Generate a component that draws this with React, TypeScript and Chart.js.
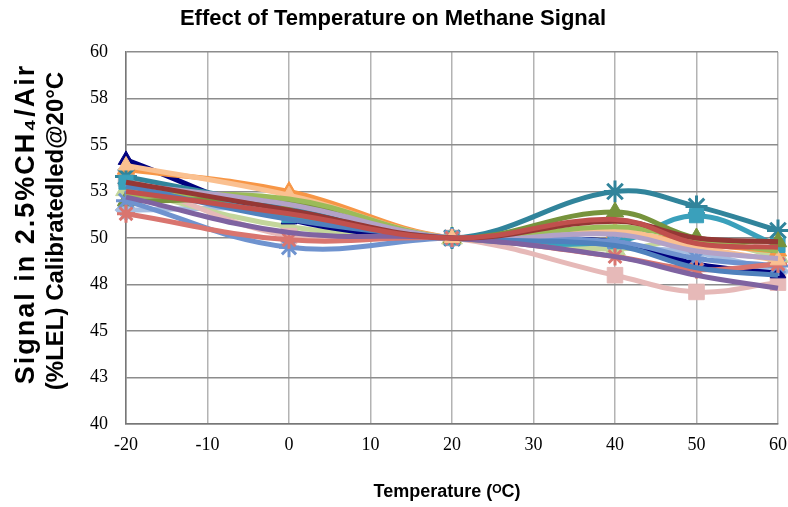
import React, { useEffect, useRef } from "react";
import { Chart, registerables } from "chart.js";

Chart.register(...registerables);

const temperatures = [-20, 0, 20, 40, 50, 60];

const navyDiamond = [54.2, 51.0, 50, 49.8, 48.6, 48.1];
const pinkSquare = [53.2, 50.1, 50, 48.0, 47.1, 47.6];
const lightGreenTriangle = [52.6, 50.6, 50, 49.4, 49.9, 49.0];
const tealStar = [53.3, 51.6, 50, 52.5, 51.7, 50.4];
const tealSquare = [53.0, 51.2, 50, 49.8, 51.2, 49.6];
const orangeTriangle = [53.7, 52.5, 50, 50.3, 49.7, 49.3];
const greenTriangle = [52.0, 51.9, 50, 51.4, 50.0, 49.8];
const redLine = [52.5, 51.3, 50, 51.0, 49.7, 49.5];
const purpleLine = [52.2, 50.3, 50, 49.0, 48.0, 47.3];
const blueLine = [52.8, 51.0, 50, 49.6, 48.4, 48.0];
const salmonCross = [51.3, 49.9, 50, 49.0, 48.3, 48.6];
const lightPurpleLine = [52.9, 51.8, 50, 50.2, 49.3, 48.9];
const oliveGreenLine = [52.3, 52.1, 50, 50.6, 49.9, 49.3];
const darkRedLine = [53.0, 51.5, 50, 50.9, 50.0, 49.8];
const lightOrangeLine = [53.9, 52.3, 50, 50.4, 49.5, 48.8];
const skyBlueStar = [52.0, 49.5, 50, 49.8, 48.9, 48.5];
const lightBlueDiamond = [51.5, 51.5, 50, 49.5, 49.2, 48.2];

const yTicks = [40, 42.5, 45, 47.5, 50, 52.5, 55, 57.5, 60];

const chartTitle = "Effect of Temperature on Methane Signal";
const xTitle = "Temperature (ᴼC)";
const yTitleLines = ["Signal in 2.5%CH₄/Air", "(%LEL) Calibratedled@20°C"];

type S = { data: number[]; color: string; style: string; radius: number };

const seriesList: S[] = [
  { data: redLine, color: "#C0504D", style: "circle", radius: 0 },
  { data: darkRedLine, color: "#953735", style: "circle", radius: 0 },
  { data: purpleLine, color: "#7F63A1", style: "circle", radius: 0 },
  { data: blueLine, color: "#4F81BD", style: "circle", radius: 0 },
  { data: lightPurpleLine, color: "#B3A2C7", style: "circle", radius: 0 },
  { data: oliveGreenLine, color: "#9BBB59", style: "circle", radius: 0 },
  { data: lightOrangeLine, color: "#FAC090", style: "triangle", radius: 9 },
  { data: salmonCross, color: "#D9756F", style: "star", radius: 9 },
  { data: skyBlueStar, color: "#6F93CF", style: "star", radius: 10 },
  { data: greenTriangle, color: "#77933C", style: "triangle", radius: 10 },
  { data: tealSquare, color: "#3AA0BB", style: "rect", radius: 10 },
  { data: tealStar, color: "#31849B", style: "star", radius: 11 },
  { data: orangeTriangle, color: "#F79646", style: "triangle", radius: 10 },
  { data: navyDiamond, color: "#00007F", style: "triangle", radius: 9 },
  { data: pinkSquare, color: "#E6B9B8", style: "rect", radius: 11 },
  { data: lightGreenTriangle, color: "#C3D69B", style: "triangle", radius: 12 },
  { data: lightBlueDiamond, color: "#A6BDE0", style: "rectRot", radius: 11 },
];

const titlesPlugin = {
  id: "titlesPlugin",
  afterDraw(chart: any) {
    const ctx = chart.ctx as CanvasRenderingContext2D;
    const specs = [
      { x: 27, y: 224, size: 27, spacing: "2px" },
      { x: 56, y: 231, size: 24, spacing: "0px" },
    ];
    yTitleLines.forEach((line, i) => {
      ctx.save();
      ctx.translate(specs[i].x, specs[i].y);
      ctx.rotate(-Math.PI / 2);
      ctx.font = "bold " + specs[i].size + "px 'Liberation Sans', Arial, sans-serif";
      (ctx as any).letterSpacing = specs[i].spacing;
      ctx.fillStyle = "#000";
      ctx.textAlign = "center";
      ctx.textBaseline = "middle";
      ctx.fillText(line, 0, 0);
      ctx.restore();
    });
    ctx.save();
    ctx.fillStyle = "#000";
    ctx.textAlign = "center";
    ctx.textBaseline = "middle";
    ctx.font = "bold 18px 'Liberation Sans', Arial, sans-serif";
    ctx.fillText(xTitle, 447, 492);
    ctx.font = "bold 22px 'Liberation Sans', Arial, sans-serif";
    ctx.fillText(chartTitle, 393, 19);
    ctx.restore();
  },
};

export default function App() {
  const ref = useRef<HTMLCanvasElement | null>(null);
  useEffect(() => {
    document.body.style.margin = "0";
    if (!ref.current) return;
    const chart = new Chart(ref.current, {
      type: "line",
      data: {
        datasets: seriesList.map((s, i) => ({
          label: "S" + (i + 1),
          data: temperatures.map((t, j) => ({ x: t, y: s.data[j] })),
          borderColor: s.color,
          backgroundColor: s.color,
          pointBackgroundColor: s.color,
          pointBorderColor: s.color,
          pointBorderWidth: s.style === "star" ? 3 : 1,
          pointStyle: s.style as any,
          pointRadius: s.radius,
          borderWidth: 5,
          tension: 0.4,
          fill: false,
          clip: false as any,
        })),
      },
      options: {
        animation: false,
        responsive: false,
        maintainAspectRatio: false,
        layout: { padding: { right: 0, top: 52, left: 0, bottom: 0 } },
        plugins: {
          legend: { display: false },
          tooltip: { enabled: false },
          title: { display: false },
        },
        scales: {
          x: {
            type: "linear",
            min: -20,
            max: 60,
            afterFit: (scale: any) => {
              scale.height = 83;
              scale.paddingLeft = 0;
              scale.paddingRight = 0;
            },
            ticks: {
              stepSize: 10,
              color: "#000",
              padding: 10,
              font: { family: "Liberation Serif", size: 18 },
            },
            grid: { color: "#B3B3B3", lineWidth: 1.5, drawTicks: false },
            border: { color: "#777", width: 1.5 },
          },
          y: {
            type: "linear",
            min: 40,
            max: 60,
            afterFit: (scale: any) => {
              scale.width = 126;
              scale.paddingTop = 0;
              scale.paddingBottom = 0;
            },
            afterBuildTicks: (scale: any) => {
              scale.ticks = yTicks.map((v) => ({ value: v }));
            },
            ticks: {
              color: "#000",
              padding: 18,
              font: { family: "Liberation Serif", size: 18 },
              callback: (v: any) => String(Math.round(Number(v))),
            },
            grid: { color: "#8C8C8C", lineWidth: 1.5, drawTicks: false },
            border: { color: "#777", width: 1.5 },
          },
        },
      },
      plugins: [titlesPlugin],
    });
    return () => chart.destroy();
  }, []);
  return (
    <div style={{ width: 788, height: 507, overflow: "hidden", background: "#fff" }}>
      <canvas ref={ref} width={792} height={507} style={{ display: "block" }} />
    </div>
  );
}
